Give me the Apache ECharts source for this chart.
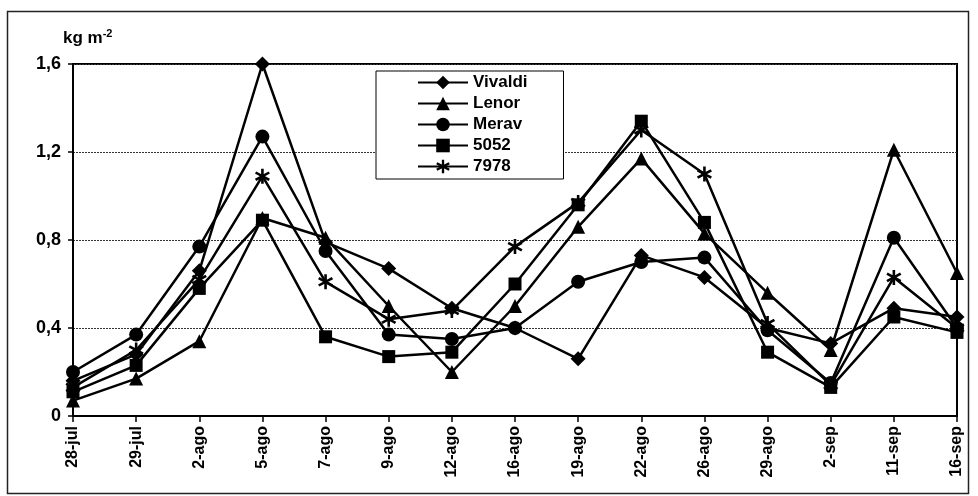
<!DOCTYPE html>
<html><head><meta charset="utf-8">
<script src="https://cdn.jsdelivr.net/npm/echarts@6/dist/echarts.min.js"></script>
<style>html,body{margin:0;padding:0;background:#fff}#c{width:978px;height:496px}</style>
</head><body><div id="c"></div>
<script>
const categories = ['28-jul','29-jul','2-ago','5-ago','7-ago','9-ago','12-ago','16-ago','19-ago','22-ago','26-ago','29-ago','2-sep','11-sep','16-sep'];
const vivaldi = [0.16,0.28,0.66,1.60,0.79,0.67,0.49,0.40,0.26,0.73,0.63,0.40,0.33,0.49,0.45];
const lenor   = [0.07,0.17,0.34,0.90,0.81,0.50,0.20,0.50,0.86,1.17,0.83,0.56,0.30,1.21,0.65];
const merav   = [0.20,0.37,0.77,1.27,0.75,0.37,0.35,0.40,0.61,0.70,0.72,0.39,0.15,0.81,0.40];
const s5052   = [0.11,0.23,0.58,0.89,0.36,0.27,0.29,0.60,0.96,1.34,0.88,0.29,0.13,0.45,0.38];
const s7978   = [0.13,0.30,0.62,1.09,0.61,0.44,0.48,0.77,0.97,1.30,1.10,0.42,0.14,0.63,0.40];
const seriesNames = ['Vivaldi','Lenor','Merav','5052','7978'];
const yTicks = [0, 0.4, 0.8, 1.2, 1.6];

const asterisk = 'path://M8.3,0L11.7,0L11.7,20L8.3,20ZM0.15,6.56L1.85,3.61L19.85,13.44L18.15,16.39ZM18.15,3.61L19.85,6.56L1.85,16.39L0.15,13.44Z';
const FONT = '"Liberation Sans", Arial, sans-serif';
const chart = echarts.init(document.getElementById('c'), null, {renderer:'canvas'});
function mk(name, data, symbol, size){
  return {name, type:'line', data, symbol, symbolSize:size, showAllSymbol:true,
    lineStyle:{color:'#000', width:2.5}, itemStyle:{color:'#000', borderWidth:0},
    emphasis:{disabled:true}, animation:false};
}
chart.setOption({
  backgroundColor:'#fff',
  animation:false,
  textStyle:{fontFamily:FONT},
  graphic:[
    {type:'rect', shape:{x:7.5, y:11.5, width:961, height:482}, style:{fill:'none', stroke:'#222', lineWidth:1.5}, z:-1},
    {type:'text', left:63, top:28, style:{rich:{a:{fontFamily:FONT, fontWeight:'bold', fontSize:17, fill:'#000'}, s:{fontFamily:FONT, fontWeight:'bold', fontSize:11, fill:'#000', verticalAlign:'top', padding:[0,0,9,0]}}, text:'{a|kg m}{s|-2}'}}
  ],
  legend:{
    data:seriesNames, orient:'vertical', left:376, top:71,
    backgroundColor:'#fff', borderColor:'#000', borderWidth:1,
    padding:[3,36,4,41], itemWidth:50, itemHeight:17, itemGap:4,
    textStyle:{fontFamily:FONT, fontWeight:'bold', fontSize:17, color:'#000', lineHeight:17},
    selectedMode:false, z:10
  },
  grid:{left:73, right:21, top:64, bottom:80, show:true, borderColor:'#000', borderWidth:2, backgroundColor:'transparent'},
  xAxis:{
    type:'category', data:categories, boundaryGap:false,
    axisLine:{lineStyle:{color:'#000', width:2}},
    axisTick:{show:true, inside:false, length:6, lineStyle:{color:'#000', width:1.5}, interval:0},
    axisLabel:{rotate:90, interval:0, margin:10, fontFamily:FONT, fontWeight:'bold', fontSize:16, color:'#000'},
    splitLine:{show:false}
  },
  yAxis:{
    type:'value', min:0, max:1.6, interval:0.4,
    axisLine:{show:true, lineStyle:{color:'#000', width:2}},
    axisTick:{show:true, length:5, lineStyle:{color:'#000', width:1.5}},
    axisLabel:{margin:12, fontFamily:FONT, fontWeight:'bold', fontSize:18, color:'#000',
      formatter:v=>{const t=yTicks.find(k=>Math.abs(k-v)<1e-6); return t===0?'0':String(+v.toFixed(1)).replace('.',',');}},
    splitLine:{show:true, lineStyle:{color:'#333', width:1, type:[2,1]}}
  },
  series:[
    mk('Vivaldi', vivaldi, 'diamond', 15),
    mk('Lenor', lenor, 'triangle', 14),
    mk('Merav', merav, 'circle', 14),
    mk('5052', s5052, 'rect', 13),
    mk('7978', s7978, asterisk, 15)
  ]
});
</script></body></html>
